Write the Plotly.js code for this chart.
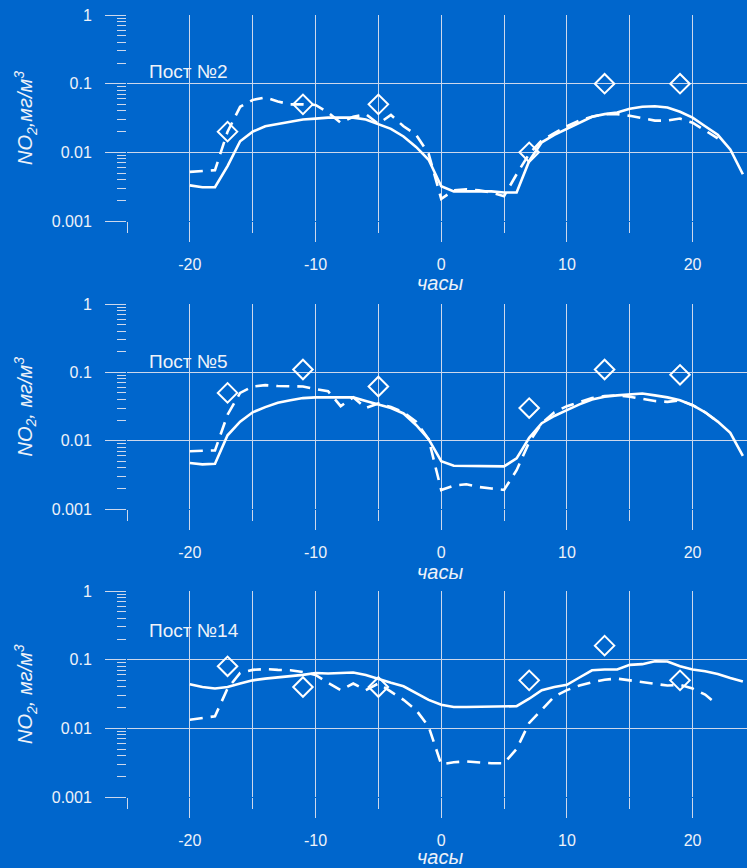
<!DOCTYPE html>
<html>
<head>
<meta charset="utf-8">
<script src="https://cdn.plot.ly/plotly-3.0.1.min.js"></script>
<style>
  html, body { margin: 0; padding: 0; background: #0066cc; }
  #chart { width: 747px; height: 868px; }
</style>
</head>
<body>
<div id="chart"></div>
<script>
// Hourly NO2 concentrations (mg/m3) at three monitoring posts
const hoursFull = [-20,-19,-18,-17,-16,-15,-14,-13,-12,-11,-10,-9,-8,-7,-6,-5,-4,-3,-2,-1,
                   0,1,2,3,4,5,6,7,8,9,10,11,12,13,14,15,16,17,18,19,20,21,22,23,24];
const hoursShort = [-20,-19,-18,-17,-16,-15,-14,-13,-12,-11,-10,-9,-8,-7,-6,-5,-4,-3,-2,-1,
                    0,1,2,3,4,5,6,7,8,9,10,11,12,13,14,15,16,17,18,19,20,21,22];
const obsHours = [-17,-11,-5,7,13,19];

const xTickVals = [-20, -10, 0, 10, 20];
const xTickText = ['-20', '-10', '0', '10', '20'];
const yTickVals = [0.001, 0.01, 0.1, 1];
const yTickText = ['0.001', '0.01', '0.1', '1'];

const post2Solid = [0.0033,0.0031,0.0031,0.0063,0.0145,0.020,0.024,0.026,0.028,0.030,0.031,0.032,0.032,0.032,0.030,0.026,0.022,0.017,0.012,0.0078,
                    0.0032,0.0027,0.0027,0.0027,0.0027,0.0026,0.0026,0.0075,0.014,0.018,0.022,0.027,0.033,0.036,0.038,0.043,0.046,0.047,0.045,0.039,0.032,0.024,0.018,0.011,0.0048];
const post2Dashed = [0.0052,0.0053,0.0055,0.020,0.046,0.058,0.063,0.055,0.050,0.050,0.049,0.038,0.027,0.033,0.036,0.026,0.035,0.024,0.018,0.0095,
                     0.0021,0.0028,0.0029,0.0028,0.0026,0.0023,0.0048,0.0095,0.015,0.019,0.024,0.029,0.033,0.036,0.036,0.034,0.031,0.029,0.029,0.031,0.027,0.021,0.016];
const post2Obs = [0.02,0.05,0.05,0.01,0.1,0.1];

const post5Solid = [0.0047,0.0045,0.0046,0.012,0.019,0.026,0.031,0.036,0.039,0.042,0.043,0.043,0.043,0.043,0.038,0.034,0.030,0.025,0.017,0.0105,
                    0.005,0.0043,0.0043,0.0043,0.0043,0.0042,0.0055,0.011,0.018,0.023,0.028,0.034,0.040,0.044,0.046,0.047,0.049,0.046,0.043,0.039,0.033,0.026,0.019,0.013,0.006];
const post5Dashed = [0.0070,0.0071,0.0072,0.024,0.050,0.062,0.065,0.063,0.062,0.062,0.057,0.053,0.032,0.043,0.030,0.035,0.031,0.026,0.019,0.0105,
                     0.0019,0.0022,0.0023,0.0021,0.0020,0.0019,0.0037,0.0095,0.018,0.026,0.032,0.037,0.042,0.045,0.046,0.044,0.041,0.038,0.037,0.039,0.033,0.026,0.019];
const post5Obs = [0.05,0.11,0.062,0.03,0.11,0.092];

const post14Solid = [0.044,0.040,0.038,0.040,0.045,0.050,0.053,0.055,0.058,0.060,0.064,0.063,0.064,0.065,0.060,0.052,0.046,0.041,0.033,0.026,
                     0.022,0.0205,0.0205,0.0207,0.021,0.021,0.021,0.027,0.036,0.040,0.043,0.055,0.070,0.072,0.072,0.084,0.086,0.095,0.094,0.080,0.072,0.068,0.062,0.054,0.048];
const post14Dashed = [0.0133,0.014,0.015,0.038,0.064,0.071,0.073,0.071,0.070,0.066,0.060,0.046,0.036,0.045,0.036,0.045,0.034,0.026,0.0185,0.0106,
                      0.0030,0.0032,0.0033,0.0032,0.0031,0.0031,0.005,0.012,0.019,0.029,0.036,0.042,0.047,0.051,0.053,0.050,0.048,0.045,0.042,0.043,0.038,0.031,0.022];
const post14Obs = [0.08,0.04,0.04,0.05,0.16,0.05];

const panels = [
  {label: 'Пост №2',  solid: post2Solid,  dashed: post2Dashed,  obs: post2Obs,  ytitle: 'NO<sub>2</sub>,мг/м<sup>3</sup>',  labelY: 0.148},
  {label: 'Пост №5',  solid: post5Solid,  dashed: post5Dashed,  obs: post5Obs,  ytitle: 'NO<sub>2</sub>, мг/м<sup>3</sup>', labelY: 0.142},
  {label: 'Пост №14', solid: post14Solid, dashed: post14Dashed, obs: post14Obs, ytitle: 'NO<sub>2</sub>, мг/м<sup>3</sup>', labelY: 0.27}
];

// page geometry (px)
const W = 747, H = 868, L = 127;
const panelTop = [15, 304, 591];
const panelBottom = [221, 509, 797];
const xTitleY = [283, 572, 857];

const BG = '#0066cc';
const GRID = '#cdd8ec';
const TEXT = '#eef2f9';
const FONT = 'Liberation Sans, Arial, sans-serif';

const px2x = px => (px - L) / (W - L);
const px2y = py => 1 - py / H;

// minor log ticks 2..9 within each decade
const minorVals = [];
[0.001, 0.01, 0.1].forEach(d => { for (let k = 2; k <= 9; k++) minorVals.push(+(d * k).toPrecision(3)); });

const traces = [];
const layout = {
  width: W, height: H,
  paper_bgcolor: BG, plot_bgcolor: BG,
  margin: {l: L, r: 0, t: 0, b: 0},
  showlegend: false,
  font: {family: FONT, color: TEXT, size: 16},
  annotations: []
};

panels.forEach((p, i) => {
  const n = i === 0 ? '' : String(i + 1);
  const xa = 'x' + n, ya = 'y' + n;
  traces.push({x: hoursFull, y: p.solid, xaxis: xa, yaxis: ya, type: 'scatter', mode: 'lines',
               line: {color: '#ffffff', width: 2.6}, hoverinfo: 'skip'});
  traces.push({x: hoursShort, y: p.dashed, xaxis: xa, yaxis: ya, type: 'scatter', mode: 'lines',
               line: {color: '#ffffff', width: 2.6, dash: '13px,8px'}, hoverinfo: 'skip'});
  traces.push({x: obsHours, y: p.obs, xaxis: xa, yaxis: ya, type: 'scatter', mode: 'markers',
               marker: {symbol: 'diamond-open', size: 15, color: '#ffffff', line: {width: 2, color: '#ffffff'}},
               hoverinfo: 'skip'});

  layout['xaxis' + n] = {
    anchor: ya, domain: [0, 1], range: [-25, 24.33],
    tickmode: 'array', tickvals: xTickVals, ticktext: xTickText,
    ticks: 'outside', ticklen: 20, tickwidth: 1, tickcolor: GRID,
    showgrid: true, gridcolor: GRID, gridwidth: 1,
    minor: {dtick: 5, tick0: 0, ticks: 'outside', ticklen: 11, tickwidth: 1, tickcolor: GRID,
            showgrid: true, gridcolor: GRID, gridwidth: 1},
    zeroline: false, showline: false,
    ticklabelstandoff: 9,
    tickfont: {size: 16, color: TEXT, family: FONT}
  };
  layout['yaxis' + n] = {
    anchor: xa, type: 'log', range: [-3, 0],
    domain: [px2y(panelBottom[i]), px2y(panelTop[i])],
    tickmode: 'array', tickvals: yTickVals, ticktext: yTickText,
    ticks: 'outside', ticklen: 21, tickwidth: 1, tickcolor: GRID,
    showgrid: true, gridcolor: GRID, gridwidth: 1,
    minor: {tickmode: 'array', tickvals: minorVals, ticks: 'outside', ticklen: 9, tickwidth: 1,
            tickcolor: GRID, showgrid: false},
    zeroline: false, showline: false,
    ticklabelstandoff: 10,
    tickfont: {size: 16, color: TEXT, family: FONT}
  };

  // station label
  layout.annotations.push({
    xref: xa, yref: ya, x: -23.4, y: Math.log10(p.labelY), xanchor: 'left', yanchor: 'middle',
    text: p.label, showarrow: false, font: {size: 19, color: TEXT, family: FONT}
  });
  // y axis title
  layout.annotations.push({
    xref: 'paper', yref: 'paper', x: px2x(25), y: px2y((panelTop[i] + panelBottom[i]) / 2),
    xanchor: 'center', yanchor: 'middle', textangle: -90,
    text: '<i>' + p.ytitle + '</i>', showarrow: false, font: {size: 20, color: TEXT, family: FONT}
  });
  // x axis title
  layout.annotations.push({
    xref: 'paper', yref: 'paper', x: px2x(440), y: px2y(xTitleY[i]),
    xanchor: 'center', yanchor: 'middle',
    text: '<i>часы</i>', showarrow: false, font: {size: 20, color: TEXT, family: FONT}
  });
});

Plotly.newPlot('chart', traces, layout, {staticPlot: true, displayModeBar: false});
</script>
</body>
</html>
